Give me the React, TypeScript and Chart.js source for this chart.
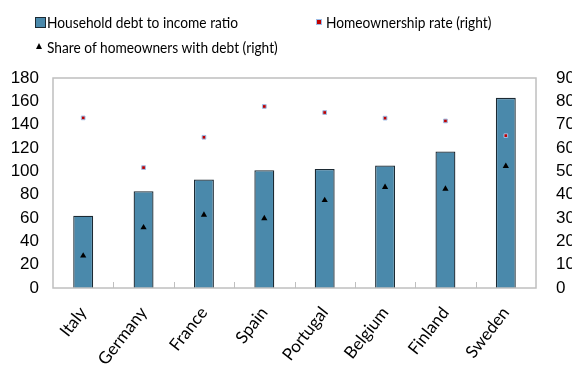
import React, { useEffect, useRef } from "react";
import { Chart, registerables } from "chart.js";

Chart.register(...registerables);

const countries = ["Italy", "Germany", "France", "Spain", "Portugal", "Belgium", "Finland", "Sweden"];
const debtToIncome = [62, 83, 93, 101, 102, 105, 117, 163];
const homeownershipRate = [72.9, 51.6, 64.6, 77.8, 75.2, 72.8, 71.6, 65.3];
const ownersWithDebt = [13.8, 25.9, 31.3, 29.8, 37.6, 43.2, 42.5, 52.2];

const leftTicks = [0, 20, 40, 60, 80, 100, 120, 140, 160, 180];
const rightTicks = [0, 10, 20, 30, 40, 50, 60, 70, 80, 90];

const BAR_BLUE = "#4a89ab";
const AXIS_GREY = "#bfbfbf";
const TICK_FONT = "'Liberation Sans Narrow', 'Liberation Sans', Arial, sans-serif";

// Frame around the plot area plus short inward category ticks on the base line
const framePlugin = {
  id: "frame",
  afterDatasetsDraw(chart: any) {
    const { ctx, chartArea, scales } = chart;
    const x = scales.x;
    ctx.save();
    ctx.strokeStyle = AXIS_GREY;
    ctx.lineWidth = 1.5;
    ctx.strokeRect(chartArea.left, chartArea.top, chartArea.right - chartArea.left, chartArea.bottom - chartArea.top);
    ctx.lineWidth = 1;
    for (let i = 0; i < countries.length - 1; i++) {
      const px = Math.round((x.getPixelForValue(i) + x.getPixelForValue(i + 1)) / 2) + 0.5;
      ctx.beginPath();
      ctx.moveTo(px, chartArea.bottom);
      ctx.lineTo(px, chartArea.bottom - 6);
      ctx.stroke();
    }
    ctx.restore();
  },
};

export default function App() {
  const canvasRef = useRef<HTMLCanvasElement | null>(null);

  useEffect(() => {
    document.body.style.margin = "0";
    const canvas = canvasRef.current;
    if (!canvas) return;
    const chart = new Chart(canvas, {
      type: "bar",
      data: {
        labels: countries,
        datasets: [
          {
            type: "scatter" as any,
            label: "Homeownership rate (right)",
            data: homeownershipRate as any,
            yAxisID: "y1",
            pointStyle: "rect",
            pointRadius: 2.6,
            backgroundColor: "#c00000",
            borderColor: "#9dbde6",
            borderWidth: 1,
            order: 1,
          },
          {
            type: "scatter" as any,
            label: "Share of homeowners with debt (right)",
            data: ownersWithDebt as any,
            yAxisID: "y1",
            pointStyle: "triangle",
            pointRadius: 3.6,
            backgroundColor: "#000000",
            borderColor: "#000000",
            borderWidth: 0,
            order: 0,
          },
          {
            type: "bar",
            label: "Household debt to income ratio",
            data: debtToIncome,
            yAxisID: "y",
            backgroundColor: BAR_BLUE,
            borderColor: "#1c2a33",
            borderWidth: 1.3,
            barPercentage: 0.33,
            categoryPercentage: 1,
            order: 2,
          },
        ],
      },
      options: {
        animation: false,
        responsive: true,
        maintainAspectRatio: false,
        layout: { padding: { top: 78, left: 0, right: 0, bottom: 0 } },
        plugins: {
          legend: { display: false },
          tooltip: { enabled: false },
        },
        scales: {
          x: {
            type: "category",
            offset: true,
            grid: { display: false, drawTicks: false },
            border: { display: false },
            afterFit: (s: any) => {
              s.height = 84;
            },
            ticks: {
              autoSkip: false,
              minRotation: 52,
              maxRotation: 52,
              padding: 15,
              color: "#000",
              font: { family: "Lato", size: 17 },
            },
          },
          y: {
            position: "left",
            min: 0,
            max: 180,
            afterFit: (s: any) => {
              s.width = 53;
            },
            afterBuildTicks: (s: any) => {
              s.ticks = leftTicks.map((v) => ({ value: v }));
            },
            grid: { display: false, drawTicks: false },
            border: { display: false },
            ticks: {
              autoSkip: false,
              padding: 14,
              color: "#000",
              font: { family: TICK_FONT, size: 17 },
            },
          },
          y1: {
            position: "right",
            min: 0,
            max: 90,
            afterFit: (s: any) => {
              s.width = 36;
            },
            afterBuildTicks: (s: any) => {
              s.ticks = rightTicks.map((v) => ({ value: v }));
            },
            grid: { display: false, drawTicks: false },
            border: { display: false },
            ticks: {
              autoSkip: false,
              padding: 20,
              color: "#000",
              font: { family: TICK_FONT, size: 17 },
            },
          },
        },
      },
      plugins: [framePlugin],
    });
    return () => chart.destroy();
  }, []);

  const legendText: React.CSSProperties = {
    position: "absolute",
    fontFamily: "Lato",
    fontSize: 15,
    lineHeight: "18px",
    color: "#000",
    whiteSpace: "nowrap",
    transform: "scaleX(0.915)",
    transformOrigin: "left center",
  };

  return (
    <div style={{ position: "fixed", left: 0, top: 0, width: 572, height: 372, background: "#fff" }}>
      <canvas ref={canvasRef} />
      <div
        style={{
          position: "absolute",
          left: 35,
          top: 17,
          width: 9,
          height: 9,
          background: BAR_BLUE,
          border: "1px solid #1c2a33",
        }}
      />
      <div style={{ ...legendText, left: 47, top: 13 }}>Household debt to income ratio</div>
      <div
        style={{
          position: "absolute",
          left: 316,
          top: 19,
          width: 4,
          height: 4,
          background: "#c00000",
          border: "1px solid #9dbde6",
        }}
      />
      <div style={{ ...legendText, left: 326, top: 13 }}>Homeownership rate (right)</div>
      <div
        style={{
          position: "absolute",
          left: 36,
          top: 43,
          width: 0,
          height: 0,
          borderLeft: "3.5px solid transparent",
          borderRight: "3.5px solid transparent",
          borderBottom: "6px solid #000",
        }}
      />
      <div style={{ ...legendText, left: 47, top: 38 }}>Share of homeowners with debt (right)</div>
    </div>
  );
}
